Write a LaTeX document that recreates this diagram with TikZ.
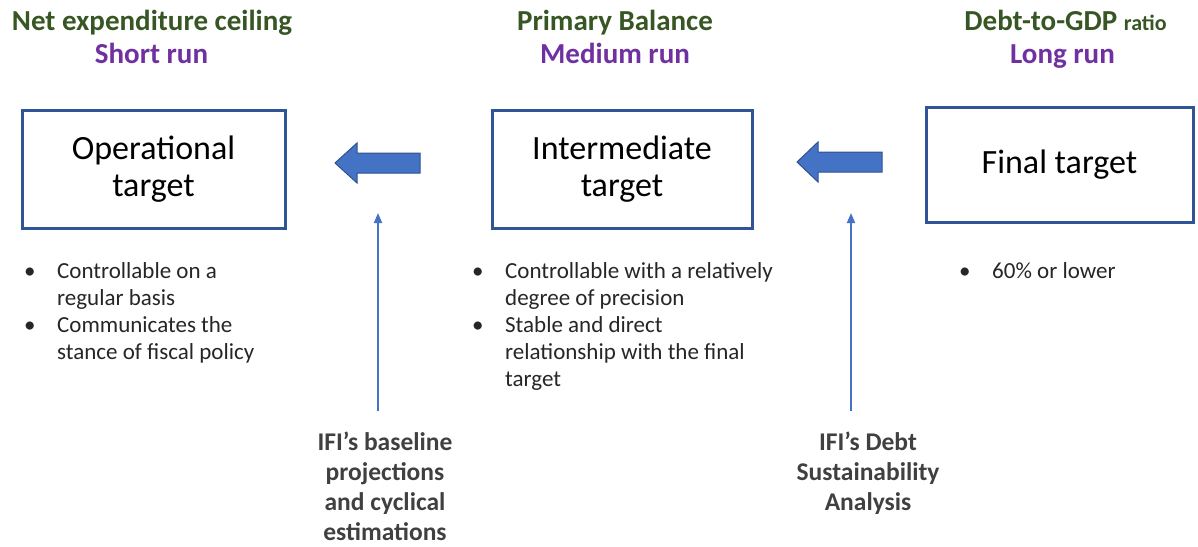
\documentclass[tikz,border=0pt]{standalone}
\usepackage{fontspec}
\setmainfont{Carlito}
\usetikzlibrary{arrows.meta,positioning}
\definecolor{boxblue}{HTML}{2F5597}
\definecolor{arrowblue}{HTML}{4472C4}
\definecolor{arrowedge}{HTML}{2F528F}
\definecolor{headgreen}{HTML}{375623}
\definecolor{runpurple}{HTML}{7030A0}
\definecolor{labgray}{HTML}{404040}
\tikzset{
  target/.style={draw=boxblue, line width=3pt, align=center, inner sep=0pt,
                 font=\fontsize{34}{37}\selectfont},
  head/.style={font=\fontsize{29}{33}\selectfont\bfseries, text=headgreen, inner sep=0pt, anchor=base},
  run/.style={font=\fontsize{29}{33}\selectfont\bfseries, text=runpurple, inner sep=0pt, anchor=base},
  bullets/.style={align=left, font=\fontsize{23}{27}\selectfont, text=black!85,
                  inner sep=0pt, anchor=base west},
  source/.style={align=center, font=\fontsize{25.5}{30}\selectfont\bfseries, text=labgray,
                 inner xsep=0pt, inner ysep=20pt, outer sep=0pt, anchor=base},
  bigarrow/.style={fill=arrowblue, draw=arrowedge, line width=1pt, line join=miter},
  thinarr/.style={-{Triangle[length=10pt, width=8pt]}, draw=arrowblue, line width=1.8pt}
}
\newcommand{\bul}{\makebox[33pt][l]{\textbullet}}
\newcommand{\cont}{\hspace*{33pt}}

\begin{document}
\begin{tikzpicture}[x=1pt, y=-1pt]
    \useasboundingbox (0,0) rectangle (1198,546);

    % targets
    \node[target, minimum width=263pt, minimum height=118pt] (op) at (153.5,169) {Operational\\target};
    \node[target, minimum width=260pt, minimum height=118pt] (im) at (622,169) {Intermediate\\target};
    \node[target, minimum width=267pt, minimum height=115pt] (fin) at (1059.5,164.5) {Final target};

    % horizons
    \node[head] (h1) at (152,30) {Net expenditure ceiling};
    \node[run]  (r1) at (151.5,63) {Short run};
    \node[head] (h2) at (615,30) {Primary Balance};
    \node[run]  (r2) at (615,63) {Medium run};
    \node[head] (h3) at (1065.5,30) {Debt-to-GDP {\fontsize{22}{26}\selectfont ratio}};
    \node[run]  (r3) at (1062.5,63) {Long run};

    % properties (base = last line)
    \node[bullets] (p1) at (24,359) {\bul Controllable on a\\\cont regular basis\\
      \bul Communicates the\\\cont stance of fiscal policy};
    \node[bullets] (p2) at (472,386) {\bul Controllable with a relatively\\\cont degree of precision\\
      \bul Stable and direct\\\cont relationship with the final\\\cont target};
    \node[bullets] (p3) at (959,278) {\bul 60\% or lower};

    % block arrows
    \coordinate (tipA) at (335,163);
    \coordinate (tipB) at (797,162);
    \draw[bigarrow] (tipA) -- ++(22,-20) -- ++(0,10) -- ++(63,0) -- ++(0,20)
      -- ++(-63,0) -- ++(0,10) -- cycle;
    \draw[bigarrow] (tipB) -- ++(21,-20) -- ++(0,10) -- ++(64,0) -- ++(0,20)
      -- ++(-64,0) -- ++(0,10) -- cycle;

    % sources
    \node[source] (s1) at (385,540) {IFI’s baseline\\projections\\and cyclical\\estimations};
    \node[source] (s2) at (868,510) {IFI’s Debt\\Sustainability\\Analysis};
    \coordinate (up1) at (378,213);
    \coordinate (up2) at (851,213);
    \draw[thinarr] (s1.north -| up1) -- (up1);
    \draw[thinarr] (s2.north -| up2) -- (up2);
\end{tikzpicture}
\end{document}
